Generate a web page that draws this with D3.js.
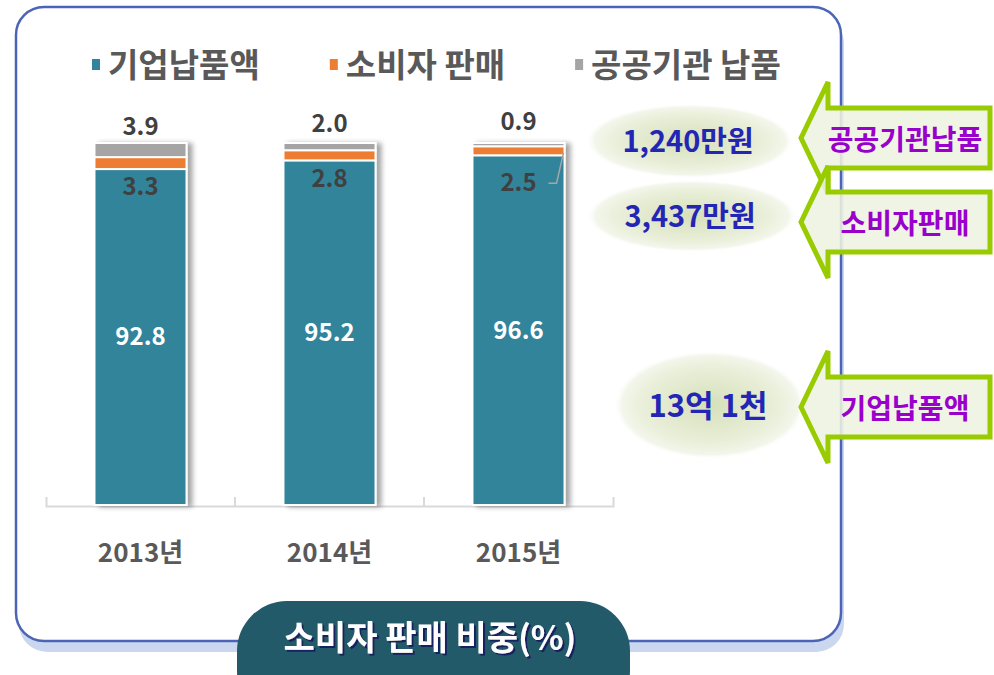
<!DOCTYPE html>
<html>
<head>
<meta charset="utf-8">
<script src="https://cdn.jsdelivr.net/npm/d3@7"></script>
<style>
  body { margin: 0; background: #fff; }
  svg { display: block; font-family: "Noto Sans CJK KR", "Noto Sans", sans-serif; }
</style>
</head>
<body>
<div class="chart"></div>
<script>
const years = ["2013년", "2014년", "2015년"];
const corporate = [92.8, 95.2, 96.6];
const consumer = [3.3, 2.8, 2.5];
const publicSector = [3.9, 2.0, 0.9];
const seriesNames = ["기업납품액", "소비자 판매", "공공기관 납품"];
const seriesColors = ["#31849b", "#ed7d31", "#a5a5a5"];
const calloutTargets = ["공공기관납품", "소비자판매", "기업납품액"];
const calloutAmounts = ["1,240만원", "3,437만원", "13억 1천"];
const chartTitle = "소비자 판매 비중(%)";

// layout of the callouts on the right (not data)
const calloutY = [138, 222, 407];
const bubbles = [
  {cx: 690, cy: 141, rx: 104, ry: 37, size: 29},
  {cx: 692, cy: 216, rx: 105, ry: 36, size: 29},
  {cx: 710, cy: 405, rx: 96, ry: 54, size: 31}
];

const width = 994;
const height = 675;
const keys = ["corporate", "consumer", "publicSector"];

const rows = years.map((year, i) => ({
  year,
  corporate: corporate[i],
  consumer: consumer[i],
  publicSector: publicSector[i]
}));

const svg = d3.select(".chart").append("svg")
  .attr("width", width)
  .attr("height", height);

const defs = svg.append("defs");

defs.append("filter").attr("id", "barShadow")
  .attr("x", "-20%").attr("y", "-5%").attr("width", "150%").attr("height", "110%")
  .append("feDropShadow")
  .attr("dx", 5).attr("dy", 1).attr("stdDeviation", 2.5)
  .attr("flood-color", "#000").attr("flood-opacity", 0.35);

defs.append("filter").attr("id", "textShadow")
  .append("feDropShadow")
  .attr("dx", 2).attr("dy", 2).attr("stdDeviation", 0.3)
  .attr("flood-color", "#14235e").attr("flood-opacity", 1);

const glow = defs.append("radialGradient").attr("id", "bubbleGlow");
glow.append("stop").attr("offset", "0%").attr("stop-color", "#d6e0ba");
glow.append("stop").attr("offset", "70%").attr("stop-color", "#e9efd9");
glow.append("stop").attr("offset", "92%").attr("stop-color", "#f3f6eb");
glow.append("stop").attr("offset", "100%").attr("stop-color", "#ffffff").attr("stop-opacity", 0);

// frame
svg.append("rect")
  .attr("x", 19).attr("y", 16).attr("width", 825).attr("height", 636).attr("rx", 28)
  .attr("fill", "#cbd7ee");
svg.append("rect")
  .attr("x", 16).attr("y", 7).attr("width", 825).attr("height", 634).attr("rx", 28)
  .attr("fill", "#fff").attr("stroke", "#4b64b7").attr("stroke-width", 2.5);

const x = d3.scaleBand().domain(years).range([46, 613]).padding(0);
const y = d3.scaleLinear().domain([0, 100]).range([505, 143]);
const barW = x.bandwidth() * 0.487;
const barOff = (x.bandwidth() - barW) / 2;

const stacked = d3.stack().keys(keys)(rows);

// axis
const axisG = svg.append("g")
  .attr("transform", `translate(0,${y(0) + 1})`)
  .call(d3.axisBottom(x).tickSizeInner(0).tickSizeOuter(-9))
  .call(g => g.select(".domain").attr("stroke", "#d9d9d9").attr("stroke-width", 2));
axisG.selectAll(".tick text")
  .attr("y", 47).attr("dy", "0.35em")
  .attr("font-size", 26).attr("font-weight", 700)
  .attr("fill", "#595959")
  .attr("font-family", "'Noto Sans CJK KR', sans-serif");
axisG.selectAll(".inner-tick")
  .data(years.slice(1))
  .join("line")
  .attr("x1", d => x(d)).attr("x2", d => x(d))
  .attr("y1", 0).attr("y2", -9)
  .attr("stroke", "#d9d9d9").attr("stroke-width", 2);

// bars
const barGroups = svg.append("g").selectAll("g")
  .data(rows)
  .join("g")
  .attr("filter", "url(#barShadow)");

barGroups.selectAll("rect")
  .data(r => stacked.map((s, k) => ({year: r.year, k, seg: s.find(v => v.data.year === r.year)})))
  .join("rect")
  .attr("x", d => x(d.year) + barOff)
  .attr("width", barW)
  .attr("y", d => y(d.seg[1]))
  .attr("height", d => y(d.seg[0]) - y(d.seg[1]))
  .attr("fill", d => seriesColors[d.k])
  .attr("stroke", "#fff")
  .attr("stroke-width", 2);

const labels = svg.append("g").attr("font-weight", 700).attr("text-anchor", "middle");

// corporate values (white, centred)
labels.selectAll(".corp")
  .data(stacked[0])
  .join("text")
  .attr("x", d => x(d.data.year) + x.bandwidth() / 2)
  .attr("y", d => (y(d[0]) + y(d[1])) / 2)
  .attr("dy", "0.35em")
  .attr("font-size", 24)
  .attr("fill", "#fff")
  .text(d => d[1].toFixed(1));

// consumer values (below the orange slice, pushed down with a leader when the top is crowded)
const consumerLabel = d => {
  const base = y(d[0]) + 18;
  const crowded = d.data.publicSector < 1;
  return {base, crowded, ly: crowded ? base + 9 : base};
};
labels.selectAll(".cons")
  .data(stacked[1])
  .join("text")
  .attr("x", d => x(d.data.year) + x.bandwidth() / 2)
  .attr("y", d => consumerLabel(d).ly)
  .attr("dy", "0.35em")
  .attr("font-size", 24)
  .attr("fill", "#404040")
  .text(d => (d[1] - d[0]).toFixed(1));

svg.append("g").selectAll("path")
  .data(stacked[1].filter(d => consumerLabel(d).crowded))
  .join("path")
  .attr("fill", "none").attr("stroke", "#a6a6a6").attr("stroke-width", 1.5)
  .attr("d", d => {
    const cx = x(d.data.year) + x.bandwidth() / 2;
    const ly = consumerLabel(d).ly + 1;
    const xr = x(d.data.year) + barOff + barW;
    return `M${cx + 30},${ly}H${cx + 38}L${xr - 1},${(y(d[0]) + y(d[1])) / 2 + 2}`;
  });

// public sector values above bars
labels.selectAll(".pub")
  .data(stacked[2])
  .join("text")
  .attr("x", d => x(d.data.year) + x.bandwidth() / 2)
  .attr("y", d => (y(d[0]) + y(d[1])) / 2 - 23)
  .attr("dy", "0.35em")
  .attr("font-size", 24)
  .attr("fill", "#404040")
  .text(d => (d[1] - d[0]).toFixed(1));

// legend
const legend = svg.append("g").attr("transform", "translate(92,65)");
let lx = 0;
seriesNames.forEach((name, i) => {
  const item = legend.append("g").attr("transform", `translate(${lx},0)`);
  item.append("rect").attr("x", 0).attr("y", -6).attr("width", 8).attr("height", 11)
    .attr("fill", seriesColors[i]);
  const t = item.append("text").attr("x", 16).attr("dy", "0.35em")
    .attr("font-size", 33).attr("font-weight", 700).attr("fill", "#595959")
    .text(name);
  lx += 16 + t.node().getComputedTextLength() + 70;
});

// bubbles
const bubbleG = svg.append("g").selectAll("g")
  .data(calloutAmounts)
  .join("g");
bubbleG.append("ellipse")
  .attr("cx", (d, i) => bubbles[i].cx).attr("cy", (d, i) => bubbles[i].cy)
  .attr("rx", (d, i) => bubbles[i].rx).attr("ry", (d, i) => bubbles[i].ry)
  .attr("fill", "url(#bubbleGlow)");
bubbleG.append("text")
  .attr("x", (d, i) => bubbles[i].cx - 2).attr("y", (d, i) => bubbles[i].cy + 1)
  .attr("dy", "0.35em").attr("text-anchor", "middle")
  .attr("font-size", (d, i) => bubbles[i].size).attr("font-weight", 700)
  .attr("fill", "#2326b4")
  .text(d => d);

// arrows
const arrowPath = cy =>
  `M801,${cy}L828,${cy - 56}V${cy - 30}H990V${cy + 30}H828V${cy + 56}Z`;
const arrowG = svg.append("g").selectAll("g")
  .data(calloutTargets)
  .join("g");
arrowG.append("path")
  .attr("d", (d, i) => arrowPath(calloutY[i]))
  .attr("fill", "#eef3e1").attr("fill-opacity", 0.88)
  .attr("stroke", "#99cc00").attr("stroke-width", 5);
arrowG.append("text")
  .attr("x", 905).attr("y", (d, i) => calloutY[i] + 2)
  .attr("dy", "0.35em").attr("text-anchor", "middle")
  .attr("font-size", 28).attr("font-weight", 700)
  .attr("fill", "#9a00cc")
  .text(d => d);

// title pill
svg.append("rect")
  .attr("x", 237).attr("y", 601).attr("width", 393).attr("height", 120).attr("rx", 50)
  .attr("fill", "#235a69");
svg.append("text")
  .attr("x", 430).attr("y", 638).attr("dy", "0.35em").attr("text-anchor", "middle")
  .attr("font-size", 34).attr("font-weight", 700).attr("fill", "#fff")
  .attr("filter", "url(#textShadow)")
  .text(chartTitle);
</script>
</body>
</html>
